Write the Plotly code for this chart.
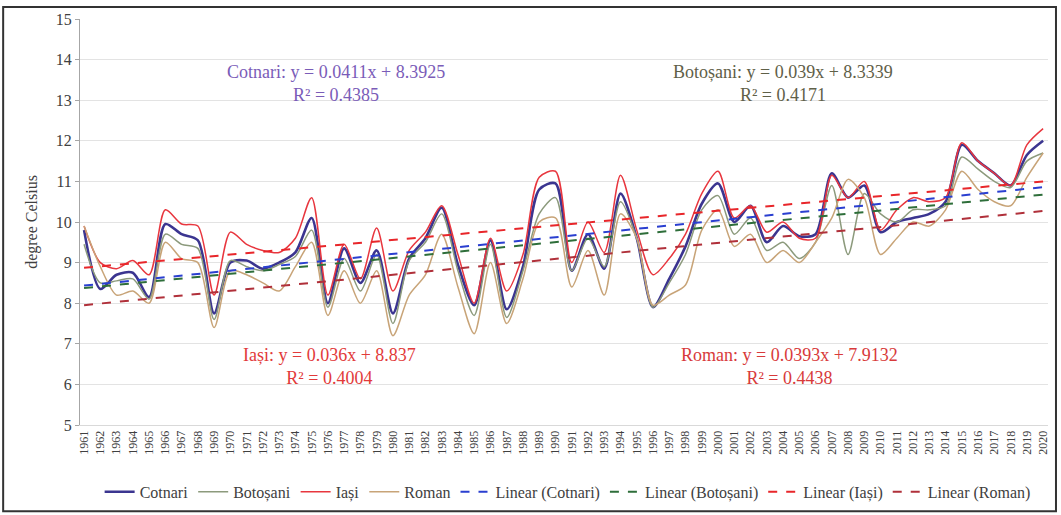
import plotly.graph_objects as go

years = list(range(1961, 2021))

cotnari = [9.8, 8.35, 8.7, 8.75, 8.15, 9.95, 9.7, 9.55, 7.75, 9.0,
           9.05, 8.85, 9.0, 9.25, 10.1, 8.0, 9.35, 8.5, 9.3, 7.75,
           9.1, 9.6, 10.35, 8.95, 7.95, 9.55, 7.85, 8.9, 10.8, 10.95,
           8.8, 9.7, 8.85, 10.7, 9.6, 7.9, 8.6, 9.4, 10.45, 10.95,
           10.0, 10.4, 9.5, 9.9, 9.65, 9.7, 11.2, 10.6, 10.9, 9.75,
           10.0, 10.1, 10.2, 10.5, 11.9, 11.5, 11.2, 10.9, 11.65, 12.0]

botosani = [9.45, 8.5, 8.55, 8.6, 8.1, 9.7, 9.45, 9.35, 7.6, 9.05,
            8.9, 8.8, 8.95, 9.15, 9.8, 7.9, 9.1, 8.3, 9.2, 7.5,
            9.05, 9.5, 10.2, 8.8, 7.7, 9.45, 7.65, 8.8, 10.2, 10.6,
            8.8, 9.6, 8.9, 10.5, 9.6, 7.9, 8.5, 9.2, 10.3, 10.65,
            9.7, 10.1, 9.3, 9.5, 9.1, 9.5, 10.9, 9.2, 10.7, 10.2,
            10.0, 10.3, 10.3, 10.4, 11.6, 11.3, 11.0, 10.85, 11.5, 11.7]

iasi = [9.9, 9.0, 8.85, 9.05, 8.7, 10.3, 9.95, 9.9, 8.2, 9.75,
        9.45, 9.3, 9.25, 9.6, 10.6, 8.2, 9.45, 8.6, 9.85, 8.3,
        9.3, 9.75, 10.4, 9.2, 8.0, 9.6, 8.3, 9.2, 11.1, 11.25,
        9.0, 10.0, 9.25, 11.15, 9.8, 8.7, 9.1, 9.7, 10.7, 11.25,
        10.1, 10.4, 9.75, 10.0, 9.6, 9.6, 11.15, 10.6, 11.0, 9.8,
        10.3, 10.6, 10.5, 10.6, 11.95, 11.5, 11.2, 10.9, 11.9, 12.3]

roman = [9.9, 8.9, 8.2, 8.3, 8.0, 9.5, 9.1, 9.0, 7.4, 8.8,
         8.7, 8.5, 8.3, 8.9, 9.5, 7.7, 8.8, 8.0, 8.8, 7.2,
         8.2, 8.7, 9.7, 8.4, 7.25, 9.0, 7.5, 8.6, 10.0, 10.1,
         8.4, 9.3, 8.2, 10.2, 9.6, 7.95, 8.2, 8.45, 9.8, 10.3,
         9.4, 9.7, 9.0, 9.3, 9.0, 9.5, 10.1, 11.05, 10.6, 9.2,
         9.6, 10.0, 9.9, 10.3, 11.25, 10.8, 10.5, 10.4, 11.1, 11.7]

station_names = ["Cotnari", "Botoșani", "Iași", "Roman"]
slopes = [0.0411, 0.039, 0.036, 0.0393]
intercepts = [8.3925, 8.3339, 8.837, 7.9132]
r2_values = ["0.4385", "0.4171", "0.4004", "0.4438"]

series = [cotnari, botosani, iasi, roman]
line_colors = ["#3b3590", "#8c9a7c", "#e8363e", "#c8a478"]
line_widths = [2.6, 1.5, 1.5, 1.5]
trend_colors = ["#2a3fd0", "#2e6e3a", "#e8262a", "#b0303a"]
text_colors = ["#7a5cb8", "#5f6048", "#e23a3a", "#d83a3a"]

FONT = "Liberation Serif"

fig = go.Figure()
for name, vals, col, w in zip(station_names, series, line_colors, line_widths):
    fig.add_trace(go.Scatter(x=years, y=vals, name=name, mode="lines",
                             line=dict(color=col, width=w, shape="spline", smoothing=0.8)))

for name, a, b, col in zip(station_names, slopes, intercepts, trend_colors):
    trend = [b + a * (i + 1) for i in range(len(years))]
    fig.add_trace(go.Scatter(x=years, y=trend, name=f"Linear ({name})", mode="lines",
                             line=dict(color=col, width=2, dash="dash")))

# equation annotations
ann_pos = [(1976.5, 13.41), (2004.0, 13.41), (1976.1, 6.44), (2004.4, 6.44)]
for name, a, b, r2, col, (ax, ay) in zip(station_names, slopes, intercepts, r2_values, text_colors, ann_pos):
    fig.add_annotation(x=ax, y=ay, xref="x", yref="y", showarrow=False,
                       text=f"{name}: y = {a}x + {b}<br>R² = {r2}",
                       font=dict(family=FONT, size=18, color=col), align="center")

# outer frame
fig.add_shape(type="rect", xref="paper", yref="paper",
              x0=(3 - 80) / 970, x1=(1058 - 80) / 970,
              y0=1 - (512 - 15) / 410, y1=1 - (3 - 15) / 410,
              line=dict(color="#333333", width=2), layer="above")

fig.update_layout(
    width=1061, height=515,
    margin=dict(l=80, r=11, t=15, b=90),
    paper_bgcolor="white", plot_bgcolor="white",
    font=dict(family=FONT, color="#404040"),
    showlegend=True,
    legend=dict(orientation="h", x=0.535, xanchor="center", xref="container",
                y=0.045, yanchor="middle", yref="container",
                font=dict(family=FONT, size=16, color="#404040"),
                itemwidth=30, traceorder="normal"),
    xaxis=dict(range=[1960.75, 2020.3], tickmode="array", tickvals=years,
               ticktext=[str(y) for y in years], tickangle=-90,
               tickfont=dict(family=FONT, size=12, color="#404040"),
               showgrid=False, showline=True, linecolor="#d9d9d9", linewidth=1,
               ticks="", zeroline=False),
    yaxis=dict(range=[5, 15], dtick=1, tickfont=dict(family=FONT, size=16, color="#404040"),
               showgrid=True, gridcolor="#e3e3e3", gridwidth=1,
               showline=True, linecolor="#a6a6a6", linewidth=1,
               ticks="outside", ticklen=4, tickcolor="#a6a6a6", zeroline=False,
               title=dict(text="degree Celsius", font=dict(family=FONT, size=16, color="#404040"),
                          standoff=14)),
)

fig.write_html("out.html")
